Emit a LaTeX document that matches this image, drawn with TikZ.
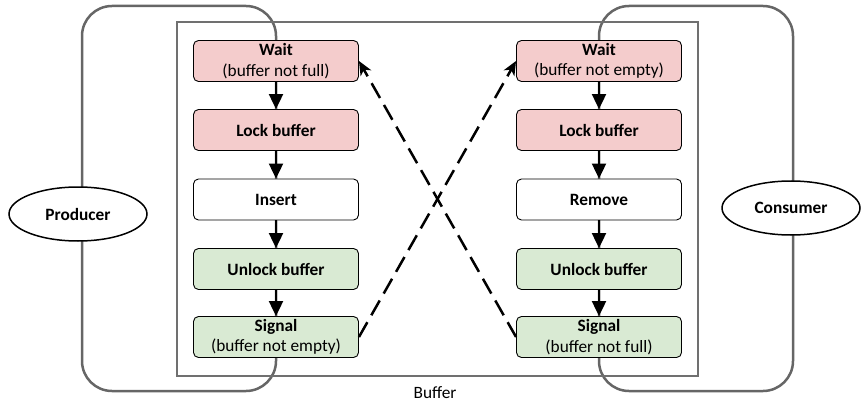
\documentclass[tikz,border=0pt]{standalone}
\usepackage{fontspec}
\setmainfont{Carlito}
\usetikzlibrary{arrows.meta,shapes.geometric}
\definecolor{redfill}{HTML}{F4CCCC}
\definecolor{greenfill}{HTML}{D9EAD3}
\definecolor{loopgray}{HTML}{666666}
\definecolor{bufgray}{HTML}{707070}
\tikzset{
  stepbox/.style={draw=black, line width=0.9pt, rounded corners=5pt, minimum width=165pt, minimum height=41pt, align=center, inner sep=0pt, font=\fontsize{17.3}{20.5}\selectfont},
  redbox/.style={stepbox, fill=redfill},
  greenbox/.style={stepbox, fill=greenfill},
  whitebox/.style={stepbox, fill=white},
  flow/.style={line width=2.2pt, -{Triangle[length=15pt,width=14pt]}},
  signalarrow/.style={line width=2.5pt, dash pattern=on 17pt off 8pt, -{Stealth[length=14pt,width=12pt,inset=4pt]}},
  loopline/.style={draw=loopgray, line width=2.5pt, rounded corners=30pt},
  actor/.style={ellipse, draw=black, line width=1.5pt, fill=white, minimum width=138pt, minimum height=54pt, inner sep=0pt, font=\fontsize{17.3}{20.5}\selectfont\bfseries}
}
\begin{document}
\begin{tikzpicture}[x=1pt,y=-1pt]
\useasboundingbox (0,0) rectangle (865,409);
% loops
\draw[loopline] (82,6) rectangle (276,391);
\draw[loopline] (599,6) rectangle (793,391);
% buffer
\draw[draw=bufgray, line width=1.5pt] (177,22) rectangle (698,376);
\node[font=\fontsize{17.3}{20.5}\selectfont] (buflabel) at (435,393) {Buffer};
% actors
\node[actor] (producer) at (78,214) {Producer};
\node[actor] (consumer) at (791,208) {Consumer};
% left column
\node[redbox] (lwait) at (276,61) {\textbf{Wait}\\(buffer not full)};
\node[redbox] (llock) at (276,130) {\textbf{Lock buffer}};
\node[whitebox] (linsert) at (276,199.5) {\textbf{Insert}};
\node[greenbox] (lunlock) at (276,269) {\textbf{Unlock buffer}};
\node[greenbox] (lsignal) at (276,337) {\textbf{Signal}\\(buffer not empty)};
% right column
\node[redbox] (rwait) at (599,61) {\textbf{Wait}\\(buffer not empty)};
\node[redbox] (rlock) at (599,130) {\textbf{Lock buffer}};
\node[whitebox] (rremove) at (599,199.5) {\textbf{Remove}};
\node[greenbox] (runlock) at (599,269) {\textbf{Unlock buffer}};
\node[greenbox] (rsignal) at (599,337) {\textbf{Signal}\\(buffer not full)};
% flows
\draw[flow] (lwait) -- (llock);
\draw[flow] (llock) -- (linsert);
\draw[flow] (linsert) -- (lunlock);
\draw[flow] (lunlock) -- (lsignal);
\draw[flow] (rwait) -- (rlock);
\draw[flow] (rlock) -- (rremove);
\draw[flow] (rremove) -- (runlock);
\draw[flow] (runlock) -- (rsignal);
% signals
\draw[signalarrow] (lsignal.east) -- (rwait.west);
\draw[signalarrow] (rsignal.west) -- (lwait.east);
\end{tikzpicture}
\end{document}
